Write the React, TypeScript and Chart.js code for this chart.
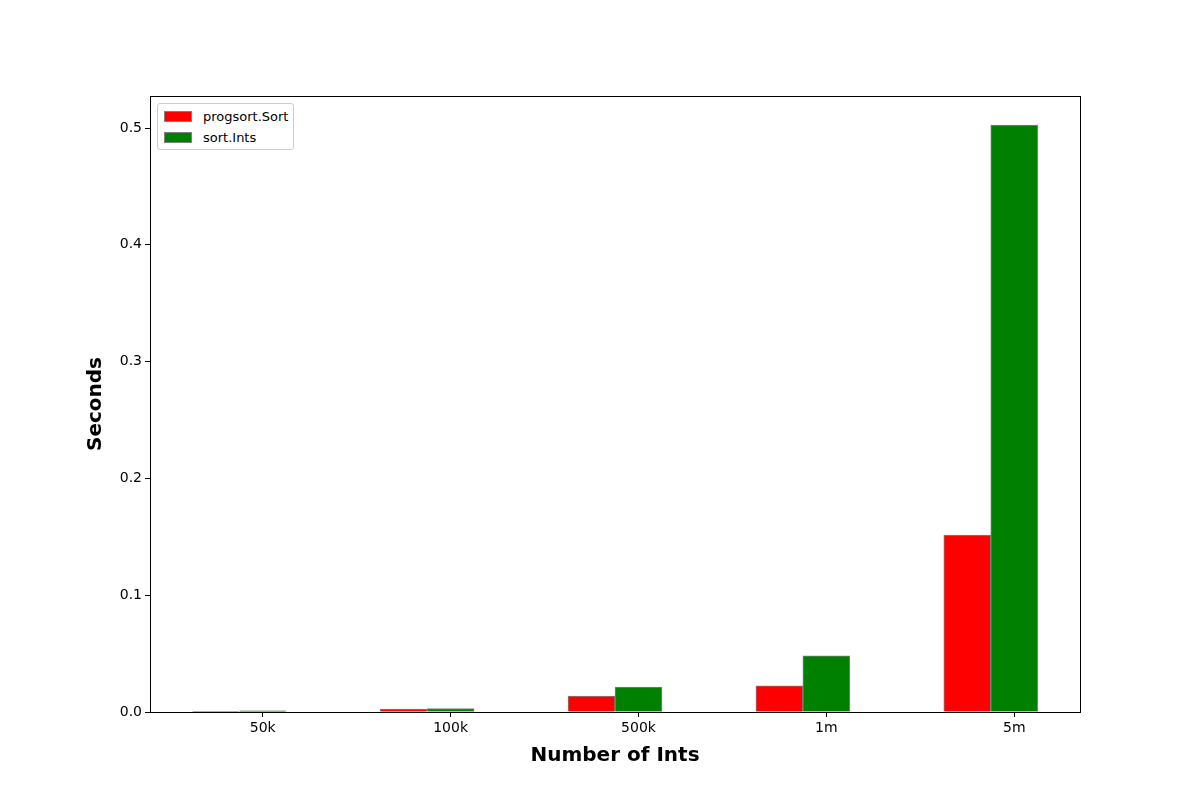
import { useEffect, useRef } from "react";
import Chart from "chart.js/auto";

const categories = ["50k", "100k", "500k", "1m", "5m"];
const progsortSort = [0.0005, 0.0025, 0.0137, 0.0223, 0.1515];
const sortInts = [0.001, 0.003, 0.0214, 0.048, 0.5026];
const yTicks = [0, 0.1, 0.2, 0.3, 0.4, 0.5];

const FONT = "'DejaVu Sans', sans-serif";

const frame = {
  id: "frame",
  afterDraw(chart: any) {
    const { ctx, chartArea: a } = chart;
    ctx.save();
    ctx.strokeStyle = "#000";
    ctx.lineWidth = 1;
    ctx.strokeRect(a.left + 0.5, a.top + 0.5, a.right - a.left, a.bottom - a.top);
    ctx.restore();
  },
};

export default function App() {
  const chartRef = useRef<HTMLCanvasElement>(null);

  useEffect(() => {
    document.body.style.margin = "0";
    if (!chartRef.current) return;
    const ctx = chartRef.current.getContext("2d");
    if (!ctx) return;

    const myChart = new Chart(ctx, {
      type: "bar",
      data: {
        datasets: [
          {
            label: "progsort.Sort",
            data: progsortSort.map((v, i) => ({ x: i, y: v })),
            backgroundColor: "#ff0000",
            borderColor: "#808080",
            borderWidth: 1,
          },
          {
            label: "sort.Ints",
            data: sortInts.map((v, i) => ({ x: i + 0.25, y: v })),
            backgroundColor: "#008000",
            borderColor: "#808080",
            borderWidth: 1,
          },
        ],
      },
      options: {
        responsive: false,
        animation: false,
        grouped: false,
        categoryPercentage: 1,
        barPercentage: 1,
        layout: { padding: { left: 80, right: 120, top: 96, bottom: 28 } },
        plugins: { legend: { display: false }, tooltip: { enabled: false } },
        scales: {
          x: {
            type: "linear",
            offset: false,
            min: -0.35,
            max: 4.6,
            afterBuildTicks: (s: any) => {
              s.ticks = categories.map((_, i) => ({ value: i + 0.25 }));
            },
            afterFit: (s: any) => {
              s.height = 60;
            },
            ticks: {
              color: "#000",
              font: { family: FONT, size: 14 },
              callback: (v: any) => categories[Math.round(Number(v) - 0.25)],
            },
            grid: { offset: false, drawOnChartArea: false, drawTicks: true, tickLength: 5, color: "#000" },
            border: { display: true, color: "#000" },
            title: {
              display: true,
              text: "Number of Ints",
              color: "#000",
              font: { family: FONT, size: 20, weight: "bold" },
              padding: { top: 0 },
            },
          },
          y: {
            min: 0,
            max: 0.5274,
            afterBuildTicks: (s: any) => {
              s.ticks = yTicks.map((v) => ({ value: v }));
            },
            afterFit: (s: any) => {
              s.width = 70;
            },
            ticks: {
              color: "#000",
              font: { family: FONT, size: 14 },
              callback: (v: any) => Number(v).toFixed(1),
            },
            grid: { drawOnChartArea: false, drawTicks: true, tickLength: 5, color: "#000" },
            border: { display: true, color: "#000" },
            title: {
              display: true,
              text: "Seconds",
              color: "#000",
              font: { family: FONT, size: 20, weight: "bold" },
            },
          },
        },
      } as any,
      plugins: [frame],
    });

    return () => {
      myChart.destroy();
    };
  }, []);

  const legendItems = [
    { label: "progsort.Sort", color: "#ff0000" },
    { label: "sort.Ints", color: "#008000" },
  ];

  return (
    <div style={{ position: "relative", width: 1200, height: 800, background: "#fff" }}>
      <canvas ref={chartRef} width={1200} height={800} />
      <div
        style={{
          position: "absolute",
          left: 157,
          top: 103,
          border: "1px solid #ccc",
          borderRadius: 3,
          background: "#fff",
          padding: "2px 5px 1px 6px",
          fontFamily: FONT,
          fontSize: 13,
        }}
      >
        {legendItems.map((it) => (
          <div key={it.label} style={{ display: "flex", alignItems: "center", height: 21 }}>
            <span
              style={{
                display: "inline-block",
                width: 26,
                height: 9,
                background: it.color,
                border: "1px solid #808080",
                marginRight: 11,
              }}
            />
            {it.label}
          </div>
        ))}
      </div>
    </div>
  );
}
